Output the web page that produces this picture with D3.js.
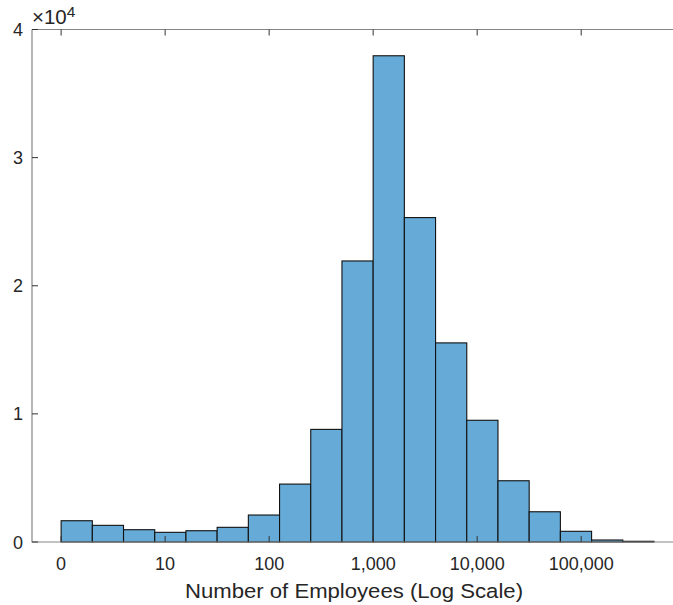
<!DOCTYPE html>
<html><head><meta charset="utf-8">
<script src="https://cdn.jsdelivr.net/npm/d3@7"></script>
<style>body{margin:0;background:#fff}svg{display:block}text{font-family:"Liberation Sans",Arial,sans-serif;fill:#262626}</style>
</head><body><svg id="c" width="673" height="605"></svg>
<script>
// bin left edges in log10(employees); bin width 0.3 decades
const binStarts = [0,0.3,0.6,0.9,1.2,1.5,1.8,2.1,2.4,2.7,3.0,3.3,3.6,3.9,4.2,4.5,4.8,5.1,5.4];
const binWidth = 0.3;
const counts = [1660,1300,960,755,880,1145,2105,4520,8790,21935,37950,25320,15540,9500,4780,2360,835,156,55];
const xTickVals = [0,1,2,3,4,5];
const xTickLabels = ["0","10","100","1,000","10,000","100,000"];
const yTickVals = [0,10000,20000,30000,40000];
const yTickLabels = ["0","1","2","3","4"];
const xLabel = "Number of Employees (Log Scale)";

const svg = d3.select("#c");
const L=32, R=680, T=29.5, B=542;
const x = d3.scaleLinear().domain([-0.28,5.95]).range([L,R]);
const y = d3.scaleLinear().domain([0,40000]).range([B,T]);

svg.append("g").selectAll("rect").data(counts).join("rect")
  .attr("x",(d,i)=>x(binStarts[i]))
  .attr("y",d=>y(d))
  .attr("width",(d,i)=>x(binStarts[i]+binWidth)-x(binStarts[i]))
  .attr("height",d=>B-y(d))
  .attr("fill","#66aad7").attr("stroke","#111").attr("stroke-width",1.1);

// box
svg.append("path").attr("d",`M${L},${T}H${R}M${L},${T}V${B}H${R}`)
  .attr("fill","none").attr("stroke","#858585").attr("stroke-width",1.2);

const tick = "#333";
xTickVals.forEach((v,i)=>{
  svg.append("line").attr("x1",x(v)).attr("x2",x(v)).attr("y1",B).attr("y2",B-6).attr("stroke",tick);
  svg.append("line").attr("x1",x(v)).attr("x2",x(v)).attr("y1",T).attr("y2",T+6).attr("stroke",tick);
  svg.append("text").attr("x",x(v)).attr("y",570).attr("text-anchor","middle")
    .attr("font-size",18).text(xTickLabels[i]);
});
yTickVals.forEach((v,i)=>{
  svg.append("line").attr("x1",L).attr("x2",L+6).attr("y1",y(v)).attr("y2",y(v)).attr("stroke",tick);
  svg.append("text").attr("x",L-9).attr("y",y(v)+6.5).attr("text-anchor","end")
    .attr("font-size",18).text(yTickLabels[i]);
});
// exponent
const ex = svg.append("text").attr("x",32).attr("y",24).attr("font-size",20.5);
ex.append("tspan").text("\u00d710");
ex.append("tspan").attr("dy",-7).attr("font-size",15.5).text("4");

svg.append("text").attr("x",(185+523)/2).attr("y",598).attr("text-anchor","middle")
  .attr("font-size",20.5).attr("textLength",338).attr("lengthAdjust","spacingAndGlyphs").text(xLabel);
</script></body></html>
